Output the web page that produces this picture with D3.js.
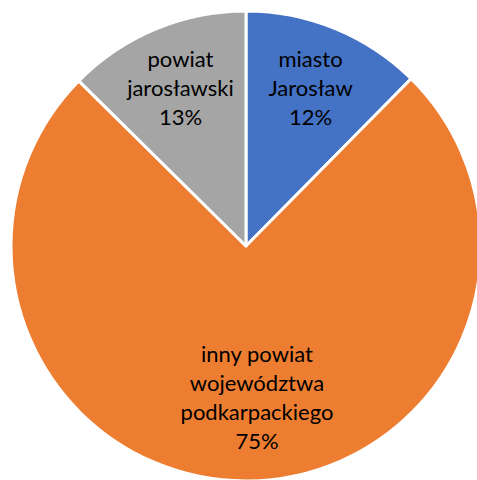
<!DOCTYPE html>
<html>
<head>
<meta charset="utf-8">
<script src="https://cdn.jsdelivr.net/npm/d3@7"></script>
<style>
  html, body { margin: 0; padding: 0; background: #fff; overflow: hidden; }
  svg { display: block; }
</style>
</head>
<body>
<svg id="chart" width="477" height="480"></svg>
<script>
// slices, clockwise from 12 o'clock
const categories = ["miasto Jarosław", "inny powiat województwa podkarpackiego", "powiat jarosławski"];
const labelLines = [["miasto", "Jarosław"], ["inny powiat", "województwa", "podkarpackiego"], ["powiat", "jarosławski"]];
const values = [12.4, 75.0, 12.6];
const colors = ["#4472C4", "#ED7D31", "#A5A5A5"];

const width = 477, height = 480;
const cx = 246, cy = 246, radius = 235;
const lineH = 29;

const svg = d3.select("#chart");
const g = svg.append("g").attr("transform", `translate(${cx},${cy})`);

const data = categories.map((c, i) => ({ name: c, lines: labelLines[i], value: values[i], color: colors[i] }));
const total = d3.sum(values);

const pie = d3.pie().sort(null).value(d => d.value);
const arc = d3.arc().innerRadius(0).outerRadius(radius);

const arcs = pie(data);

g.selectAll("path.slice")
    .data(arcs)
    .enter()
    .append("path")
    .attr("class", "slice")
    .attr("d", arc)
    .attr("fill", d => d.data.color)
    .attr("stroke", "#fff")
    .attr("stroke-width", 3)
    .attr("stroke-linejoin", "round");

// label radius: small slices sit further out than the big one
const labelR = d => (d.endAngle - d.startAngle) > Math.PI ? 153 : 170;

g.selectAll("text.lbl")
    .data(arcs)
    .enter()
    .append("text")
    .attr("class", "lbl")
    .attr("text-anchor", "middle")
    .style("font-family", "Lato, 'Open Sans', sans-serif")
    .style("font-size", "22px")
    .attr("fill", "#000")
    .each(function (d) {
        const mid = (d.startAngle + d.endAngle) / 2;
        const r = labelR(d);
        let x = Math.sin(mid) * r, y = -Math.cos(mid) * r;
        if ((d.endAngle - d.startAngle) > Math.PI) x += 10;
        const lines = d.data.lines.concat([Math.round(d.data.value / total * 100) + "%"]);
        const top = y - (lines.length - 1) * lineH / 2 + 7;
        const t = d3.select(this);
        lines.forEach((ln, i) => {
            t.append("tspan").attr("x", x).attr("y", top + i * lineH).text(ln);
        });
    });
</script>
</body>
</html>
